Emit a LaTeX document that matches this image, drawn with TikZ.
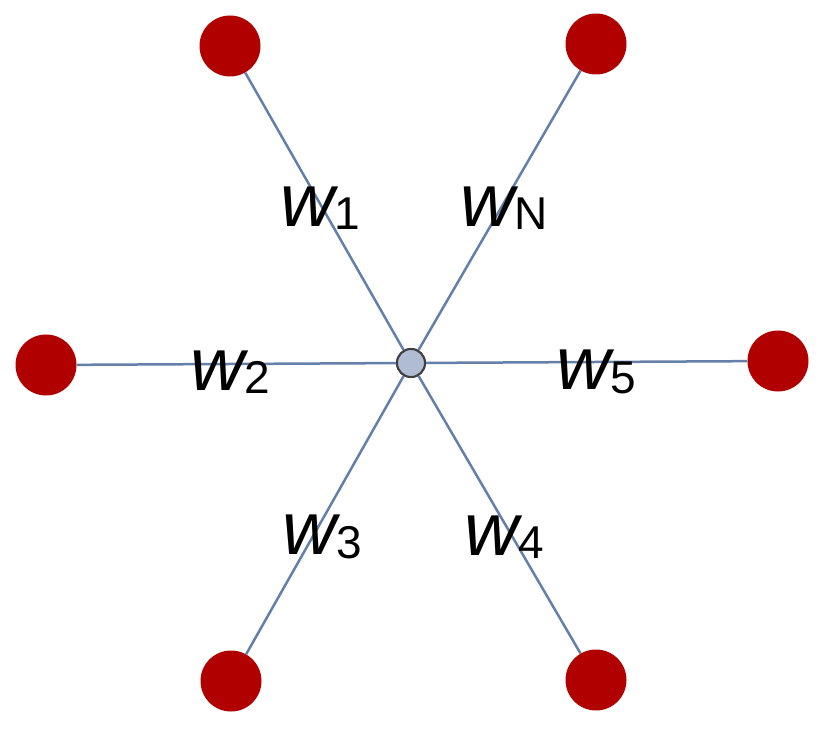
\documentclass[tikz,border=0pt]{standalone}
\usepackage{fontspec}
\setmainfont{Liberation Sans}
\definecolor{dotred}{HTML}{B00000}
\definecolor{edge}{HTML}{6480A8}
\definecolor{hub}{HTML}{B0BCD4}
\newcommand{\wl}[1]{{\fontsize{75}{75}\selectfont\itshape w}\raisebox{-0.32em}{\fontsize{46}{46}\selectfont #1}}
\begin{document}
\begin{tikzpicture}[x=1pt,y=-1pt,
  leaf/.style={circle,fill=dotred,draw=none,minimum size=61pt,inner sep=0pt},
  hubnode/.style={circle,fill=hub,draw=black!75,line width=2pt,minimum size=28pt,inner sep=0pt},
  link/.style={draw=edge,line width=2.5pt},
  lbl/.style={inner sep=0pt,anchor=center}]
\useasboundingbox (0,0) rectangle (830,735);
\node[hubnode] (c) at (411,363) {};
\node[leaf] (n1) at (230,46) {};
\node[leaf] (nN) at (596,44) {};
\node[leaf] (n2) at (46,365) {};
\node[leaf] (n5) at (778,361) {};
\node[leaf] (n3) at (231,681) {};
\node[leaf] (n4) at (596,680) {};
\foreach \n in {n1,nN,n2,n5,n3,n4} \draw[link] (c) -- (\n);
\node[hubnode] at (c) {};
\node[lbl] (l1) at (320,208) {\wl{1}};
\node[lbl] (lN) at (504,208) {\wl{N}};
\node[lbl] (l2) at (230,372) {\wl{2}};
\node[lbl] (l5) at (596,372) {\wl{5}};
\node[lbl] (l3) at (322,537) {\wl{3}};
\node[lbl] (l4) at (504,537) {\wl{4}};
\end{tikzpicture}
\end{document}
